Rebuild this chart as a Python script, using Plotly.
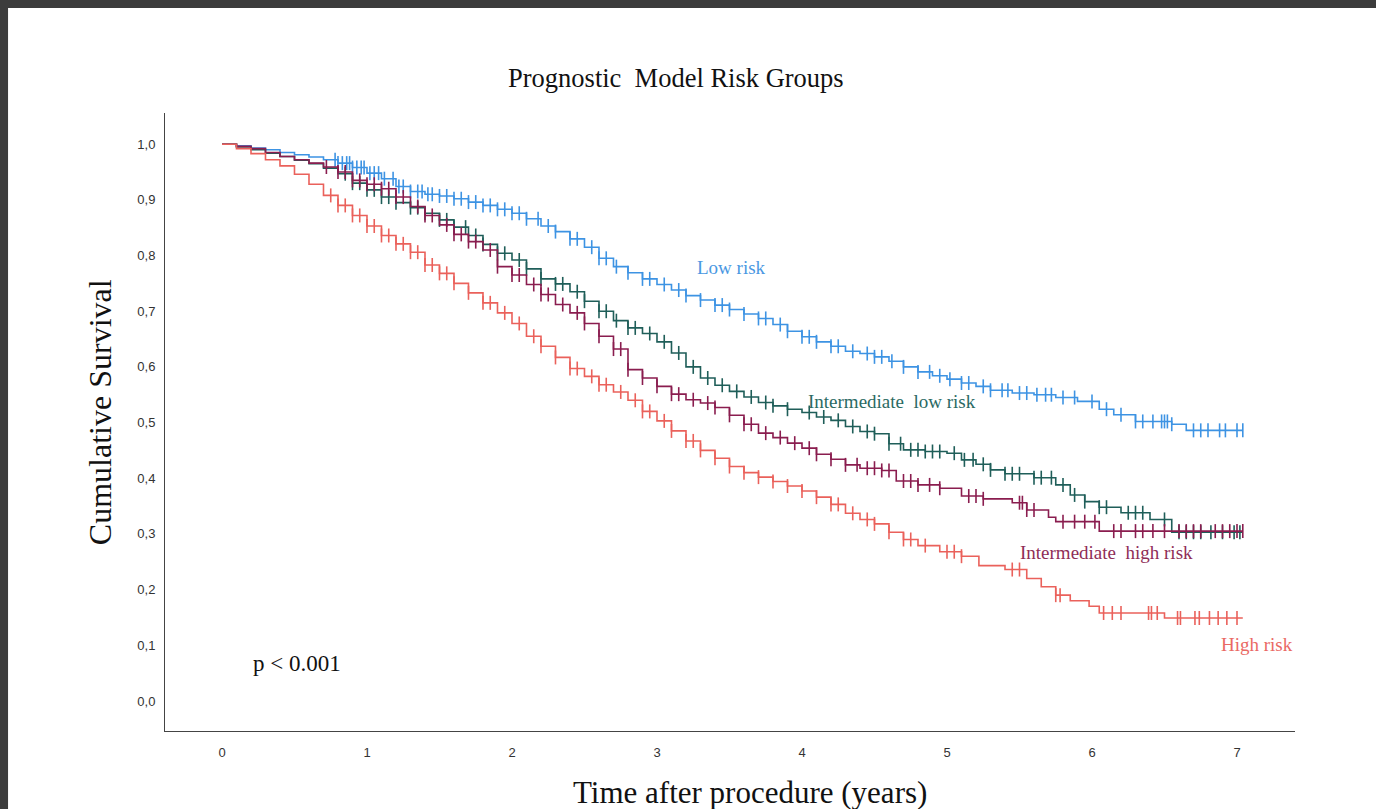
import numpy as np
import plotly.graph_objects as go

# ---- data (Kaplan-Meier step curves) ----
low_t = [0, 0.1, 0.2, 0.3, 0.4, 0.5, 0.6, 0.7, 0.8, 0.9, 1.0, 1.1, 1.2, 1.3, 1.4, 1.5, 1.6, 1.7, 1.8, 1.9,
         2.0, 2.1, 2.2, 2.3, 2.4, 2.5, 2.6, 2.7, 2.8, 2.9, 3.0, 3.1, 3.2, 3.3, 3.4, 3.5, 3.6, 3.7, 3.8, 3.9,
         4.0, 4.1, 4.2, 4.3, 4.4, 4.5, 4.6, 4.7, 4.8, 4.9, 5.0, 5.1, 5.2, 5.3, 5.45, 5.6, 5.75, 5.9, 6.05,
         6.15, 6.3, 6.55, 6.65, 7.04]
low_s = [1.0, 0.997, 0.993, 0.99, 0.985, 0.981, 0.977, 0.972, 0.966, 0.958, 0.948, 0.938, 0.924, 0.915, 0.91,
         0.907, 0.902, 0.896, 0.89, 0.883, 0.876, 0.866, 0.853, 0.843, 0.83, 0.815, 0.795, 0.78, 0.769, 0.758,
         0.748, 0.738, 0.728, 0.72, 0.711, 0.703, 0.695, 0.687, 0.676, 0.664, 0.654, 0.645, 0.637, 0.628,
         0.624, 0.618, 0.61, 0.6, 0.591, 0.584, 0.578, 0.571, 0.565, 0.558, 0.553, 0.55, 0.545, 0.538,
         0.524, 0.514, 0.502, 0.497, 0.486, 0.486]
low_cens = [0.78, 0.8, 0.83, 0.86, 0.88, 0.9, 0.93, 0.96, 0.98, 1.02, 1.05, 1.08, 1.12, 1.18, 1.22, 1.25, 1.3,
            1.35, 1.38, 1.42, 1.45, 1.5, 1.55, 1.6, 1.65, 1.7, 1.75, 1.8, 1.85, 1.9, 1.95, 2.0, 2.05, 2.1, 2.18,
            2.25, 2.3, 2.4, 2.45, 2.55, 2.6, 2.65, 2.72, 2.8, 2.9, 2.95, 3.05, 3.15, 3.2, 3.3, 3.4, 3.45, 3.5,
            3.6, 3.7, 3.75, 3.85, 3.9, 4.0, 4.05, 4.1, 4.2, 4.25, 4.35, 4.45, 4.5, 4.55, 4.62, 4.7, 4.8, 4.88,
            4.95, 5.02, 5.1, 5.15, 5.25, 5.3, 5.38, 5.42, 5.5, 5.55, 5.62, 5.68, 5.72, 5.8, 5.88, 6.0, 6.1,
            6.2, 6.3, 6.35, 6.42, 6.48, 6.5, 6.52, 6.55, 6.7, 6.75, 6.8, 6.88, 6.92, 7.0, 7.04]

il_t = [0, 0.1, 0.2, 0.3, 0.4, 0.5, 0.6, 0.7, 0.8, 0.9, 1.0, 1.1, 1.2, 1.3, 1.4, 1.5, 1.6, 1.7, 1.8, 1.9,
        2.0, 2.1, 2.2, 2.3, 2.4, 2.5, 2.6, 2.7, 2.8, 2.9, 3.0, 3.1, 3.2, 3.3, 3.4, 3.5, 3.6, 3.7, 3.8, 3.9,
        4.0, 4.1, 4.2, 4.3, 4.4, 4.5, 4.6, 4.7, 4.85, 5.0, 5.1, 5.2, 5.3, 5.4, 5.6, 5.75, 5.85, 5.95, 6.05,
        6.2, 6.4, 6.55, 7.04]
il_s = [1.0, 0.995, 0.99, 0.984, 0.978, 0.971, 0.965, 0.957, 0.947, 0.93, 0.918, 0.905, 0.895, 0.886, 0.876,
        0.864, 0.851, 0.836, 0.82, 0.804, 0.792, 0.776, 0.758, 0.749, 0.735, 0.718, 0.7, 0.683, 0.67, 0.66,
        0.645, 0.625, 0.6, 0.58, 0.567, 0.556, 0.546, 0.536, 0.53, 0.524, 0.518, 0.51, 0.504, 0.493, 0.484,
        0.48, 0.462, 0.451, 0.448, 0.445, 0.433, 0.425, 0.415, 0.408, 0.401, 0.388, 0.37, 0.358, 0.348,
        0.338, 0.326, 0.303, 0.303]
il_cens = [0.85, 0.9, 0.95, 1.0, 1.05, 1.1, 1.15, 1.2, 1.3, 1.35, 1.4, 1.5, 1.55, 1.6, 1.68, 1.75, 1.8, 1.9,
           1.95, 2.05, 2.1, 2.2, 2.3, 2.35, 2.45, 2.5, 2.6, 2.65, 2.72, 2.8, 2.85, 2.95, 3.05, 3.15, 3.25,
           3.35, 3.45, 3.55, 3.65, 3.75, 3.8, 3.9, 4.05, 4.15, 4.25, 4.35, 4.45, 4.5, 4.6, 4.68, 4.75, 4.8,
           4.85, 4.9, 4.95, 5.05, 5.12, 5.18, 5.25, 5.3, 5.4, 5.45, 5.5, 5.6, 5.65, 5.72, 5.8, 5.88, 5.95,
           6.05, 6.1, 6.25, 6.3, 6.35, 6.5, 6.6, 6.65, 6.7, 6.75, 6.82, 6.9, 6.98, 7.02]

ih_t = [0, 0.1, 0.2, 0.3, 0.4, 0.5, 0.6, 0.7, 0.8, 0.9, 1.0, 1.1, 1.2, 1.3, 1.4, 1.5, 1.6, 1.7, 1.8, 1.9,
        2.0, 2.1, 2.2, 2.3, 2.4, 2.5, 2.6, 2.7, 2.8, 2.9, 3.0, 3.1, 3.2, 3.3, 3.4, 3.5, 3.6, 3.7, 3.8, 3.9,
        4.0, 4.1, 4.2, 4.3, 4.4, 4.55, 4.65, 4.8, 4.95, 5.1, 5.25, 5.45, 5.55, 5.7, 5.75, 6.05, 7.04]
ih_s = [1.0, 0.996, 0.992, 0.985, 0.978, 0.972, 0.966, 0.959, 0.95, 0.935, 0.928, 0.92, 0.905, 0.888, 0.872,
        0.855, 0.838, 0.825, 0.81, 0.78, 0.765, 0.748, 0.73, 0.712, 0.697, 0.678, 0.655, 0.632, 0.595, 0.58,
        0.565, 0.551, 0.541, 0.535, 0.527, 0.513, 0.497, 0.481, 0.473, 0.463, 0.454, 0.443, 0.434, 0.424,
        0.418, 0.414, 0.395, 0.388, 0.382, 0.368, 0.363, 0.356, 0.343, 0.33, 0.322, 0.305, 0.305]
ih_cens = [0.72, 0.8, 0.85, 0.9, 0.95, 1.0, 1.05, 1.1, 1.15, 1.2, 1.25, 1.35, 1.4, 1.45, 1.55, 1.6, 1.65, 1.7,
           1.75, 1.85, 1.9, 2.0, 2.05, 2.15, 2.2, 2.25, 2.35, 2.45, 2.5, 2.6, 2.7, 2.75, 2.8, 2.9, 3.0, 3.1,
           3.15, 3.25, 3.35, 3.4, 3.5, 3.6, 3.65, 3.75, 3.85, 3.95, 4.05, 4.1, 4.2, 4.3, 4.38, 4.45, 4.5,
           4.55, 4.6, 4.7, 4.75, 4.8, 4.88, 4.95, 5.15, 5.2, 5.25, 5.5, 5.52, 5.55, 5.6, 5.8, 5.88, 5.95,
           6.02, 6.15, 6.2, 6.3, 6.35, 6.42, 6.5, 6.6, 6.65, 6.7, 6.75, 6.85, 6.9, 6.95, 7.0, 7.04]

hr_t = [0, 0.1, 0.2, 0.3, 0.4, 0.5, 0.6, 0.7, 0.8, 0.9, 1.0, 1.1, 1.2, 1.3, 1.4, 1.5, 1.6, 1.7, 1.8, 1.9,
        2.0, 2.1, 2.2, 2.3, 2.4, 2.5, 2.6, 2.7, 2.8, 2.9, 3.0, 3.1, 3.2, 3.3, 3.4, 3.5, 3.6, 3.7, 3.8, 3.9,
        4.0, 4.1, 4.2, 4.3, 4.4, 4.5, 4.6, 4.7, 4.8, 4.95, 5.1, 5.22, 5.4, 5.55, 5.65, 5.75, 5.85, 5.98,
        6.05, 6.5, 7.04]
hr_s = [1.0, 0.992, 0.983, 0.972, 0.961, 0.946, 0.928, 0.908, 0.89, 0.872, 0.853, 0.836, 0.821, 0.806, 0.783,
        0.768, 0.75, 0.733, 0.715, 0.697, 0.678, 0.655, 0.637, 0.617, 0.597, 0.583, 0.568, 0.555, 0.54, 0.52,
        0.503, 0.485, 0.467, 0.45, 0.436, 0.421, 0.41, 0.402, 0.394, 0.386, 0.377, 0.366, 0.353, 0.337,
        0.326, 0.318, 0.303, 0.29, 0.279, 0.268, 0.26, 0.243, 0.236, 0.22, 0.205, 0.19, 0.18, 0.17, 0.158,
        0.149, 0.149]
hr_cens = [0.75, 0.8, 0.85, 0.9, 0.95, 1.0, 1.05, 1.1, 1.15, 1.2, 1.25, 1.3, 1.35, 1.4, 1.45, 1.5, 1.55, 1.6,
           1.7, 1.8, 1.85, 1.95, 2.05, 2.15, 2.2, 2.3, 2.4, 2.45, 2.55, 2.6, 2.65, 2.75, 2.85, 2.9, 2.95, 3.05,
           3.1, 3.2, 3.25, 3.3, 3.4, 3.5, 3.6, 3.7, 3.8, 3.9, 4.0, 4.1, 4.2, 4.25, 4.35, 4.45, 4.5, 4.6, 4.7,
           4.75, 4.85, 5.0, 5.05, 5.1, 5.45, 5.5, 5.75, 5.78, 6.08, 6.14, 6.2, 6.39, 6.41, 6.45, 6.59, 6.61,
           6.71, 6.74, 6.81, 6.87, 6.93, 7.0]

groups = ["Low risk", "Intermediate low risk", "Intermediate high risk", "High risk"]
x_ticks = [0, 1, 2, 3, 4, 5, 6, 7]
y_ticks = [0.0, 0.1, 0.2, 0.3, 0.4, 0.5, 0.6, 0.7, 0.8, 0.9, 1.0]
y_ticktext = ["0,0", "0,1", "0,2", "0,3", "0,4", "0,5", "0,6", "0,7", "0,8", "0,9", "1,0"]

series = [
    (low_t, low_s, low_cens, "#3d93e3"),
    (il_t, il_s, il_cens, "#1f5e59"),
    (ih_t, ih_s, ih_cens, "#8a1d4f"),
    (hr_t, hr_s, hr_cens, "#ea615b"),
]
label_colors = ["#4a98e2", "#2b6a63", "#8f2d57", "#ea6964"]

fig = go.Figure()
for (t, s, c, col), name in zip(series, groups):
    t = np.array(t); s = np.array(s); c = np.array(c)
    idx = np.searchsorted(t, c, side="right") - 1
    cy = s[np.clip(idx, 0, len(s) - 1)]
    fig.add_trace(go.Scatter(x=t, y=s, mode="lines", line=dict(color=col, width=1.6, shape="hv"),
                             name=name, showlegend=False, hoverinfo="skip"))
    fig.add_trace(go.Scatter(x=c, y=cy, mode="markers",
                             marker=dict(symbol="line-ns", size=10, line=dict(color=col, width=1.6)),
                             name=name + " censored", showlegend=False, hoverinfo="skip"))

serif = "Liberation Serif, Times New Roman, serif"
ann = [
    ("Low risk", 3.517, 0.779, label_colors[0]),
    ("Intermediate  low risk", 4.62, 0.537, label_colors[1]),
    ("Intermediate  high risk", 6.103, 0.266, label_colors[2]),
    ("High risk", 7.138, 0.102, label_colors[3]),
]
for txt, xx, yy, col in ann:
    fig.add_annotation(x=xx, y=yy, text=txt, showarrow=False, font=dict(family=serif, size=19, color=col),
                       xanchor="center", yanchor="middle")
fig.add_annotation(x=0.517, y=0.068, text="p < 0.001", showarrow=False,
                   font=dict(family=serif, size=23, color="#111111"), xanchor="center", yanchor="middle")

fig.add_annotation(x=0.452, y=1.0566, xref="paper", yref="paper", text="Prognostic  Model Risk Groups",
                   showarrow=False, font=dict(family=serif, size=26.5, color="#111111"),
                   xanchor="center", yanchor="middle")
fig.add_annotation(x=0.5177, y=-0.1003, xref="paper", yref="paper", text="Time after procedure (years)",
                   showarrow=False, font=dict(family=serif, size=31, color="#111111"),
                   xanchor="center", yanchor="middle")
fig.add_annotation(x=-0.0575, y=0.516, xref="paper", yref="paper", text="Cumulative Survival",
                   showarrow=False, textangle=-90, font=dict(family=serif, size=32, color="#111111"),
                   xanchor="center", yanchor="middle")

# white page on dark frame
fig.add_shape(type="rect", xref="paper", yref="paper", x0=-0.1389, x1=1.2, y0=-0.3, y1=1.1699,
              fillcolor="white", line=dict(width=0), layer="below")

fig.update_layout(
    width=1376, height=809,
    margin=dict(l=165, r=81, t=113, b=78),
    paper_bgcolor="#3c3c3c", plot_bgcolor="white",
    font=dict(family="Liberation Sans, Arial, sans-serif", size=13, color="#333333"),
)
fig.update_xaxes(range=[-0.393, 7.40], tickvals=x_ticks, showgrid=False, zeroline=False,
                 showline=True, linecolor="#444444", linewidth=1, ticks="outside", ticklen=9,
                 tickcolor="rgba(0,0,0,0)", tickfont=dict(size=13, color="#333333"))
fig.update_yaxes(range=[-0.054, 1.056], tickvals=y_ticks, ticktext=y_ticktext, showgrid=False,
                 zeroline=False, showline=True, linecolor="#444444", linewidth=1, ticks="outside",
                 ticklen=6, tickcolor="rgba(0,0,0,0)", tickfont=dict(size=13, color="#333333"))

fig.write_html(
    "out.html",
    config={"displayModeBar": False},
    post_script="document.body.style.margin='0';document.body.style.overflow='hidden';"
                "document.body.style.background='#3c3c3c';",
)
